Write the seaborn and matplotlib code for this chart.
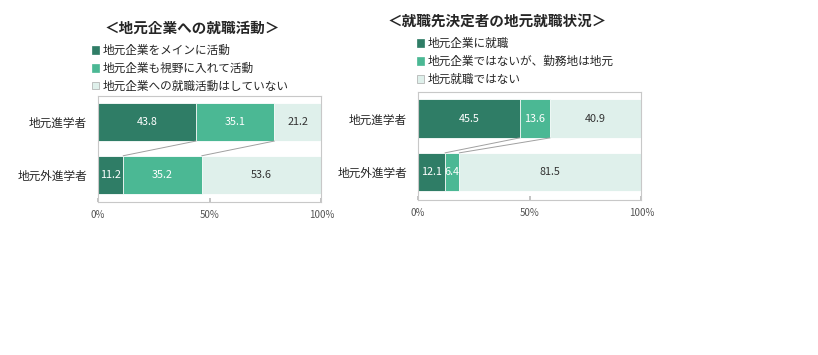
import matplotlib
matplotlib.use('Agg')
import matplotlib.pyplot as plt
from matplotlib.patches import Patch
import numpy as np
import seaborn as sns
import pandas as pd

# データ
groups = ['地元進学者', '地元外進学者']

left_title = '＜地元企業への就職活動＞'
left_series = ['地元企業をメインに活動', '地元企業も視野に入れて活動', '地元企業への就職活動はしていない']
left_values = [[43.8, 11.2], [35.1, 35.2], [21.2, 53.6]]

right_title = '＜就職先決定者の地元就職状況＞'
right_series = ['地元企業に就職', '地元企業ではないが、勤務地は地元', '地元就職ではない']
right_values = [[45.5, 12.1], [13.6, 6.4], [40.9, 81.5]]

x_ticks = [0, 50, 100]
x_tick_labels = ['0%', '50%', '100%']

colors = ['#2f7d66', '#4bb894', '#dff0eb']
text_colors = ['white', 'white', '#333333']

sns.set_theme(style='white')
plt.rcParams['font.family'] = ['Noto Sans CJK JP', 'DejaVu Sans']

fig = plt.figure(figsize=(8.18, 3.55), dpi=100)


def draw_stacked(ax, series, values, bar_h=0.72):
    vals = np.array(values)
    cum = np.cumsum(vals, axis=0)
    # 後ろから描画して積み上げに見せる
    for i in range(len(series) - 1, -1, -1):
        df = pd.DataFrame({'group': groups, 'value': cum[i]})
        sns.barplot(data=df, x='value', y='group', color=colors[i], width=bar_h,
                    saturation=1, ax=ax, edgecolor='white', linewidth=0.6)
    # 値ラベル
    for i in range(len(series)):
        for j in range(len(groups)):
            left = cum[i][j] - vals[i][j]
            ax.text(left + vals[i][j] / 2, j, f'{vals[i][j]:.1f}', ha='center', va='center',
                    color=text_colors[i], fontsize=7.8)
    # 区分線
    for i in range(len(series) - 1):
        ax.plot([cum[i][0], cum[i][1]], [bar_h / 2, 1 - bar_h / 2], color='#a0a0a0', lw=0.7)
    ax.set_xlim(0, 100)
    ax.set_ylim(1.52, -0.5)
    ax.set_xticks(x_ticks)
    ax.set_xticklabels(x_tick_labels, fontsize=7, color='#555555')
    ax.tick_params(axis='x', length=3, color='#bbbbbb', pad=6, direction='in', bottom=True)
    ax.tick_params(axis='y', length=0, labelsize=8.4, pad=8)
    ax.set_xlabel('')
    ax.set_ylabel('')
    for sp in ax.spines.values():
        sp.set_color('#c8c8c8')
        sp.set_linewidth(0.8)


ax1 = fig.add_axes([0.120, 0.431, 0.273, 0.299])
draw_stacked(ax1, left_series, left_values)
ax2 = fig.add_axes([0.511, 0.437, 0.273, 0.304])
draw_stacked(ax2, right_series, right_values)

fig.text(0.235, 0.922, left_title, ha='center', va='center', fontsize=10.5, fontweight='bold')
fig.text(0.608, 0.943, right_title, ha='center', va='center', fontsize=10.5, fontweight='bold')


def add_legend(ax, series, x, y):
    handles = [Patch(facecolor=colors[i], edgecolor='#aaaaaa' if i == 2 else colors[i],
                     linewidth=0.5, label=series[i]) for i in range(len(series))]
    ax.legend(handles=handles, loc='upper left', bbox_to_anchor=(x, y),
              bbox_transform=fig.transFigure, frameon=False, fontsize=8.4,
              handlelength=0.6, handleheight=0.6, handletextpad=0.3,
              labelspacing=0.42, borderpad=0, borderaxespad=0)


add_legend(ax1, left_series, 0.112, 0.876)
add_legend(ax2, right_series, 0.510, 0.895)

fig.savefig('out.png', dpi=100)
